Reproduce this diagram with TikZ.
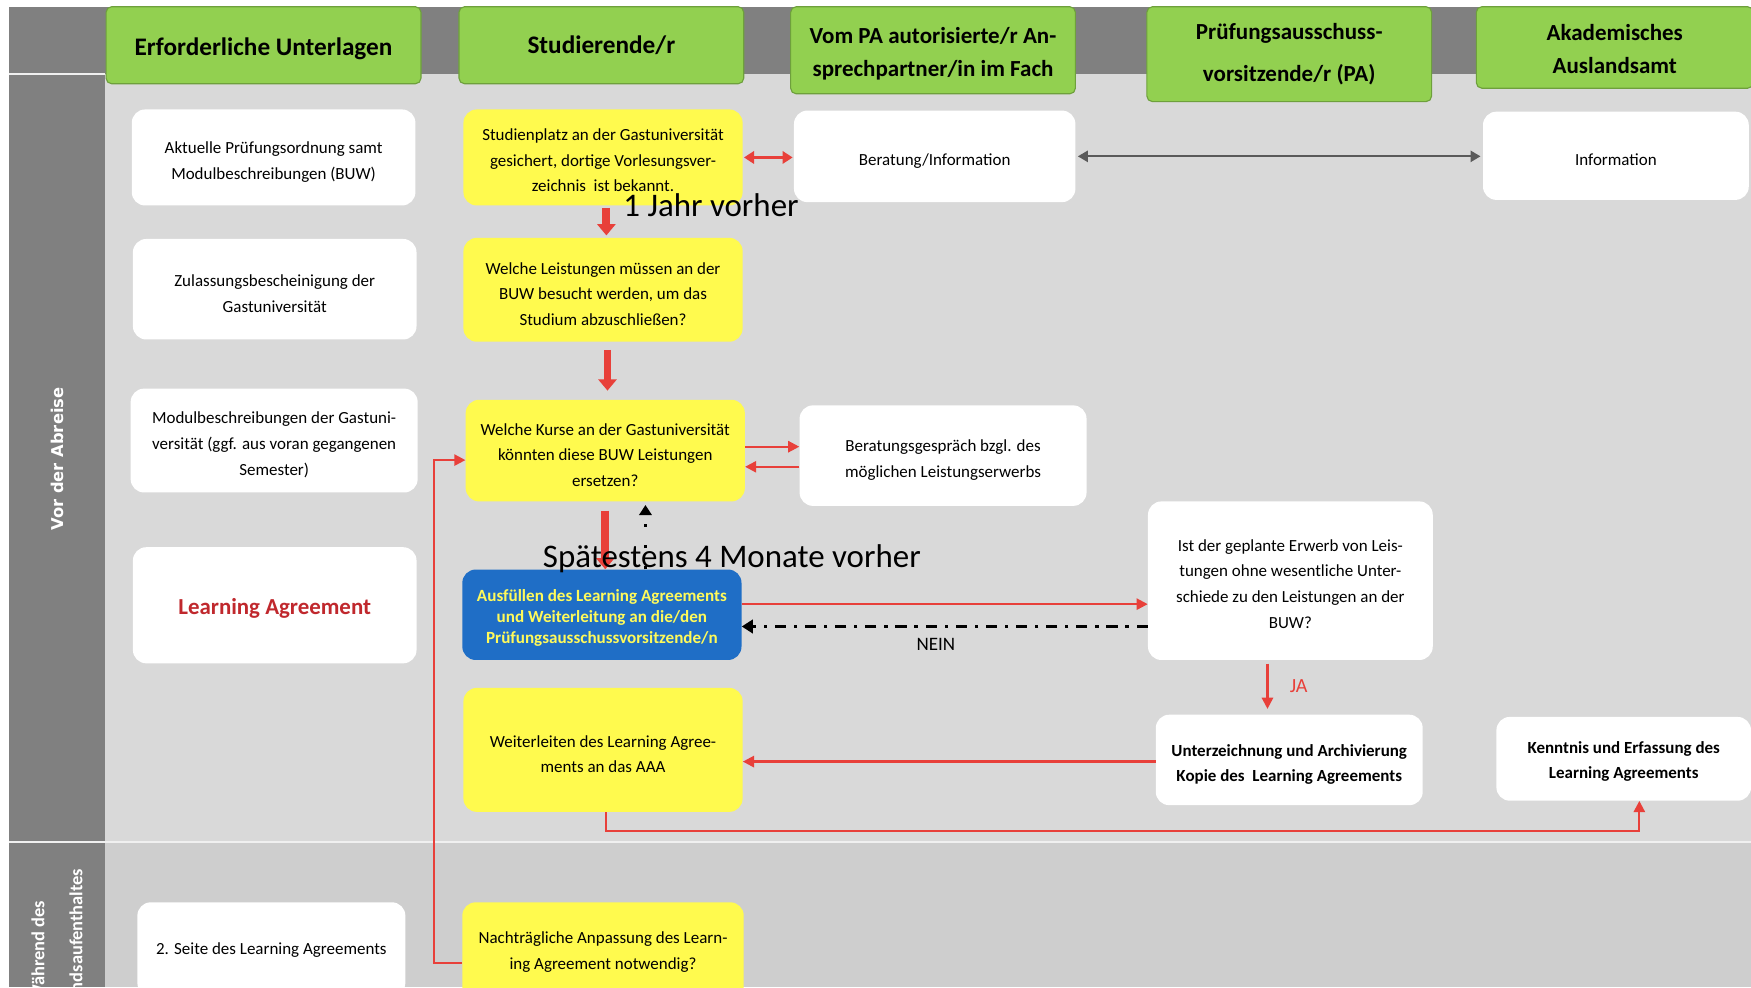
\documentclass[tikz,border=0pt]{standalone}
\usepackage{fontspec}
\setmainfont{Carlito}
\newfontfamily\dejavu{DejaVu Sans}
\usetikzlibrary{arrows.meta,calc}
\definecolor{laneA}{RGB}{217,217,217}
\definecolor{laneB}{RGB}{206,206,206}
\definecolor{dgray}{RGB}{128,128,128}
\definecolor{hgreen}{RGB}{146,208,80}
\definecolor{hgreenD}{RGB}{110,160,60}
\definecolor{ayellow}{RGB}{255,250,78}
\definecolor{ablue}{RGB}{31,110,198}
\definecolor{btext}{RGB}{255,250,90}
\definecolor{ared}{RGB}{232,64,58}
\definecolor{dred}{RGB}{192,40,45}
\definecolor{agray}{RGB}{90,90,90}
\newcommand\tup{\rule{0pt}{1.2em}}
\newcommand\tups{\rule{0pt}{1.05em}}
\newcommand\hup{\rule{0pt}{1.0em}}
\newcommand\hups{\rule{0pt}{0.85em}}
\tikzset{
  hdr/.style={fill=hgreen, draw=hgreenD, line width=1pt, rounded corners=5pt, align=center, inner sep=0pt, font=\bfseries\fontsize{20.6}{30}\selectfont},
  box/.style={rounded corners=12pt, align=center, inner sep=0pt, font=\fontsize{15.2}{23}\selectfont},
  wbox/.style={box, fill=white},
  ybox/.style={box, fill=ayellow},
  bbox/.style={box, fill=ablue, text=btext, font=\bfseries\fontsize{15.3}{19}\selectfont},
  boldtxt/.style={font=\bfseries\fontsize{15.2}{22.5}\selectfont},
  plaintxt/.style={align=center, inner sep=0pt, font=\fontsize{15.2}{23}\selectfont},
  bigtxt/.style={inner sep=0pt, font=\fontsize{29.5}{34}\selectfont},
  rarr/.style={draw=ared, line width=2pt, -{Triangle[length=10pt,width=10pt]}},
  rdbl/.style={draw=ared, line width=2.5pt, {Triangle[length=9pt,width=11pt]}-{Triangle[length=9pt,width=11pt]}},
  gdbl/.style={draw=agray, line width=2pt, {Triangle[length=9pt,width=10pt]}-{Triangle[length=9pt,width=10pt]}},
  tarr/.style={draw=ared, line width=7pt, -{Triangle[length=10pt,width=16pt]}},
  neinarr/.style={draw=black, line width=3pt, dash pattern=on 10pt off 7pt on 3pt off 7pt, -{Triangle[length=10pt,width=12pt]}},
  dotarr/.style={draw=black, line width=2.5pt, dash pattern=on 3pt off 16pt, -{Triangle[length=9pt,width=11pt]}},
  sepline/.style={draw=white!94!black, line width=2pt}
}
\begin{document}
\begin{tikzpicture}[x=1pt,y=-1pt]
\useasboundingbox (0,0) rectangle (1568,884);
\clip (0,0) rectangle (1568,884);
\fill[white] (0,0) rectangle (1568,884);
% lanes
\fill[laneA] (8,66) rectangle (1568,754);
\fill[laneB] (8,754) rectangle (1568,884);
\fill[dgray] (8,6) rectangle (1568,66);
\fill[dgray] (8,66) rectangle (94,884);
\draw[sepline] (8,66) -- (94,66);
\draw[sepline] (8,754) -- (1568,754);
\node[rotate=90, text=white, font=\dejavu\bfseries\fontsize{14.6}{16}\selectfont] (lane1) at (51,411) {Vor der Abreise};
\node[rotate=90, text=white, align=center, font=\bfseries\fontsize{16.5}{34}\selectfont] (lane2) at (51,852) {Während des\\Auslandsaufenthaltes};
% headers
\node[hdr, minimum width=282pt, minimum height=69pt, font=\bfseries\fontsize{22.6}{30}\selectfont] (h1) at (236,40.5) {\hup Erforderliche Unterlagen};
\node[hdr, minimum width=255pt, minimum height=69pt, font=\bfseries\fontsize{22.6}{30}\selectfont] (h2) at (538.5,40.5) {Studierende/r};
\node[hdr, minimum width=255pt, minimum height=78pt] (h3) at (835.5,45) {\hup Vom PA autorisierte/r An-\\sprechpartner/in im Fach};
\node[hdr, minimum width=255pt, minimum height=85pt, font=\bfseries\fontsize{20.6}{38}\selectfont] (h4) at (1154.5,48.5) {Prüfungsausschuss-\\vorsitzende/r (PA)};
\node[hdr, minimum width=248pt, minimum height=73pt] (h5) at (1446,42.5) {\hups Akademisches\\Auslandsamt};
% column 1
\node[wbox, minimum width=254pt, minimum height=86pt] (a1) at (245,141) {\tup Aktuelle Prüfungsordnung samt\\Modulbeschreibungen (BUW)};
\node[wbox, minimum width=254pt, minimum height=90pt] (a2) at (246,259) {\tup Zulassungsbescheinigung der\\Gastuniversität};
\node[wbox, minimum width=257pt, minimum height=93pt] (a3) at (245.5,394.5) {\tup Modulbeschreibungen der Gastuni-\\versität (ggf. aus voran gegangenen\\Semester)};
\node[wbox, minimum width=254pt, minimum height=104pt, text=dred, font=\bfseries\fontsize{20.5}{24}\selectfont] (a4) at (246,542) {\hup Learning Agreement};
\node[wbox, minimum width=240pt, minimum height=84pt] (a5) at (243,850) {};
\node[plaintxt] (a5t) at (243,851) {2. Seite des Learning Agreements};
% column 2
\node[ybox, minimum width=250pt, minimum height=86pt] (s1) at (540,141) {\tups Studienplatz an der Gastuniversität\\gesichert, dortige Vorlesungsver-\\zeichnis\ \ ist bekannt.};
\node[ybox, minimum width=250pt, minimum height=93pt] (s2) at (540,259.5) {\tup Welche Leistungen müssen an der\\BUW besucht werden, um das\\Studium abzuschließen?};
\node[ybox, minimum width=250pt, minimum height=91pt] (s3) at (542,403.5) {\tup Welche Kurse an der Gastuniversität\\könnten diese BUW Leistungen\\ersetzen?};
\node[bbox, minimum width=250pt, minimum height=81pt] (s4) at (539,550.5) {\tups Ausfüllen des Learning Agreements\\und Weiterleitung an die/den\\Prüfungsausschussvorsitzende/n};
\node[ybox, minimum width=250pt, minimum height=111pt] (s5) at (540,671.5) {\tup Weiterleiten des Learning Agree-\\ments an das AAA};
\node[ybox, minimum width=252pt, minimum height=92pt] (s6) at (540,854) {};
\node[plaintxt] (s6t) at (540,849) {\tup Nachträgliche Anpassung des Learn-\\ing Agreement notwendig?};
% column 3
\node[wbox, minimum width=252pt, minimum height=82pt] (p1) at (837,140) {\tup Beratung/Information};
\node[wbox, minimum width=257pt, minimum height=90pt] (p2) at (844.5,408) {\tup Beratungsgespräch bzgl. des\\möglichen Leistungserwerbs};
% column 4
\node[wbox, minimum width=255pt, minimum height=142pt] (q1) at (1155.5,520) {\tups Ist der geplante Erwerb von Leis-\\tungen ohne wesentliche Unter-\\schiede zu den Leistungen an der\\BUW?};
\node[wbox, boldtxt, minimum width=239pt, minimum height=81pt] (q2) at (1154.5,680.5) {\tup Unterzeichnung und Archivierung\\Kopie des\ \ Learning Agreements};
% column 5
\node[wbox, minimum width=238pt, minimum height=79pt] (r1) at (1447,139.5) {\tup Information};
\node[wbox, boldtxt, minimum width=228pt, minimum height=75pt] (r2) at (1454,679.5) {\tups Kenntnis und Erfassung des\\Learning Agreements};
% connectors
\draw[rdbl] ([xshift=1pt]s1.east) -- ([xshift=-1pt]s1.east -| p1.west);
\draw[gdbl] ([xshift=2pt]p1.east) -- ([xshift=-2pt]p1.east -| r1.west);
\coordinate (u1) at ([xshift=3pt]s1.south);
\draw[tarr, shorten <=2pt, shorten >=2pt] (u1) -- (u1 |- s2.north);
\coordinate (u2) at ([xshift=4pt]s2.south);
\draw[tarr, shorten <=7pt, shorten >=8pt] (u2) -- (u2 |- s3.north);
\coordinate (u3) at (s3.south);
\draw[tarr, shorten <=8pt] (u3) -- (u3 |- s4.north);
\coordinate (d1) at ([xshift=39pt]s4.north);
\draw[dotarr, shorten >=3pt] (d1) -- (d1 |- s3.south);
\coordinate (c1) at ([yshift=3.5pt]s3.east);
\draw[rarr] (c1) -- (c1 -| p2.west);
\coordinate (c2) at ([yshift=-10pt]p2.west);
\draw[rarr] (c2) -- (c2 -| s3.east);
\coordinate (e1) at ([yshift=9.5pt]s4.east);
\draw[rarr] (e1) -- (e1 -| q1.west);
\coordinate (e2) at ([yshift=-41pt]q1.west);
\draw[neinarr] (e2) -- (e2 -| s4.east);
\coordinate (e3) at ([xshift=-20.5pt]q1.south);
\draw[rarr, shorten <=3pt, shorten >=5pt] (e3) -- (e3 |- q2.north);
\coordinate (e4) at ([yshift=-1.5pt]q2.west);
\draw[rarr] (e4) -- (e4 -| s5.east);
\coordinate (f1) at ([xshift=3pt]s5.south);
\coordinate (f2) at ([xshift=14pt]r2.south);
\draw[rarr] (f1) -- ++(0,17) -| (f2);
\coordinate (g1) at ([yshift=-8pt]s6.west);
\coordinate (g2) at ([yshift=-8.5pt]s3.west);
\draw[rarr] (g1) -- ++(-25,0) |- (g2);
% labels
\node[bigtxt, anchor=west] (t1) at (558,184) {1 Jahr vorher};
\node[bigtxt, anchor=west] (t2) at (486,500) {Spätestens 4 Monate vorher};
\node[inner sep=0pt, font=\fontsize{17}{20}\selectfont] (nein) at (838,577) {NEIN};
\node[inner sep=0pt, text=ared, font=\fontsize{18}{20}\selectfont] (ja) at (1163,614) {JA};
\end{tikzpicture}
\end{document}
